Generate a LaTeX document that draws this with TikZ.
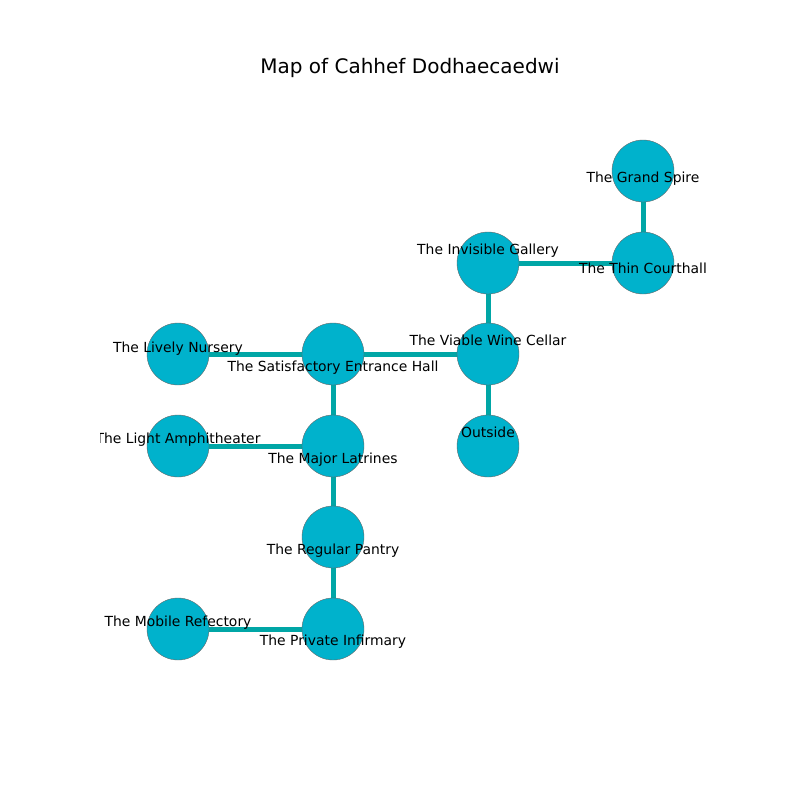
\documentclass[tikz,border=0pt]{standalone}
\usepackage{fontspec}
\setmainfont{DejaVu Sans}
\usetikzlibrary{backgrounds}
\definecolor{nodefill}{RGB}{0,178,204}
\definecolor{edgecol}{RGB}{0,166,166}
\tikzset{
  room/.style={circle, fill=nodefill, draw=gray!80!black, line width=0.4pt, minimum size=62pt, inner sep=0pt},
  link/.style={draw=edgecol, line width=5pt},
  lbl/.style={inner sep=0pt, text height=10.1pt, text depth=0pt, anchor=center, font=\fontsize{13.9pt}{16pt}\selectfont},
  ttl/.style={inner sep=0pt, anchor=base, font=\fontsize{20pt}{24pt}\selectfont}
}
\begin{document}
\begin{tikzpicture}[x=1pt,y=-1pt]
\useasboundingbox (0,0) rectangle (800,800);
\node[ttl] (title) at (410,74) {Map of Cahhef Dodhaecaedwi};
% rooms
\node[room] (grand) at (643,171) {};
\node[room] (thin) at (643,263) {};
\node[room] (invis) at (488,263) {};
\node[room] (wine) at (488,354) {};
\node[room] (out) at (488,446) {};
\node[room] (entr) at (333,354) {};
\node[room] (nurs) at (178,354) {};
\node[room] (latr) at (333,446) {};
\node[room] (amph) at (178,446) {};
\node[room] (pant) at (333,537) {};
\node[room] (infi) at (333,629) {};
\node[room] (refe) at (178,629) {};
\begin{scope}[on background layer]
\draw[link] (grand.center) -- (thin.center);
\draw[link] (thin.center) -- (invis.center);
\draw[link] (invis.center) -- (wine.center);
\draw[link] (wine.center) -- (out.center);
\draw[link] (wine.center) -- (entr.center);
\draw[link] (entr.center) -- (nurs.center);
\draw[link] (entr.center) -- (latr.center);
\draw[link] (latr.center) -- (amph.center);
\draw[link] (latr.center) -- (pant.center);
\draw[link] (pant.center) -- (infi.center);
\draw[link] (infi.center) -- (refe.center);
\end{scope}
% labels
\begin{scope}
\clip (100,96) rectangle (720,712);
\node[lbl] (lgrand) at (643,177) {The Grand Spire};
\node[lbl] (lthin) at (643,268) {The Thin Courthall};
\node[lbl] (linvis) at (488,249) {The Invisible Gallery};
\node[lbl] (lwine) at (488,340) {The Viable Wine Cellar};
\node[lbl] (lout) at (488,432) {Outside};
\node[lbl] (lentr) at (333,366) {The Satisfactory Entrance Hall};
\node[lbl] (lnurs) at (178,347) {The Lively Nursery};
\node[lbl] (llatr) at (333,458) {The Major Latrines};
\node[lbl] (lamph) at (178,438) {The Light Amphitheater};
\node[lbl] (lpant) at (333,549) {The Regular Pantry};
\node[lbl] (linfi) at (333,640) {The Private Infirmary};
\node[lbl] (lrefe) at (178,621) {The Mobile Refectory};
\end{scope}
\end{tikzpicture}
\end{document}
